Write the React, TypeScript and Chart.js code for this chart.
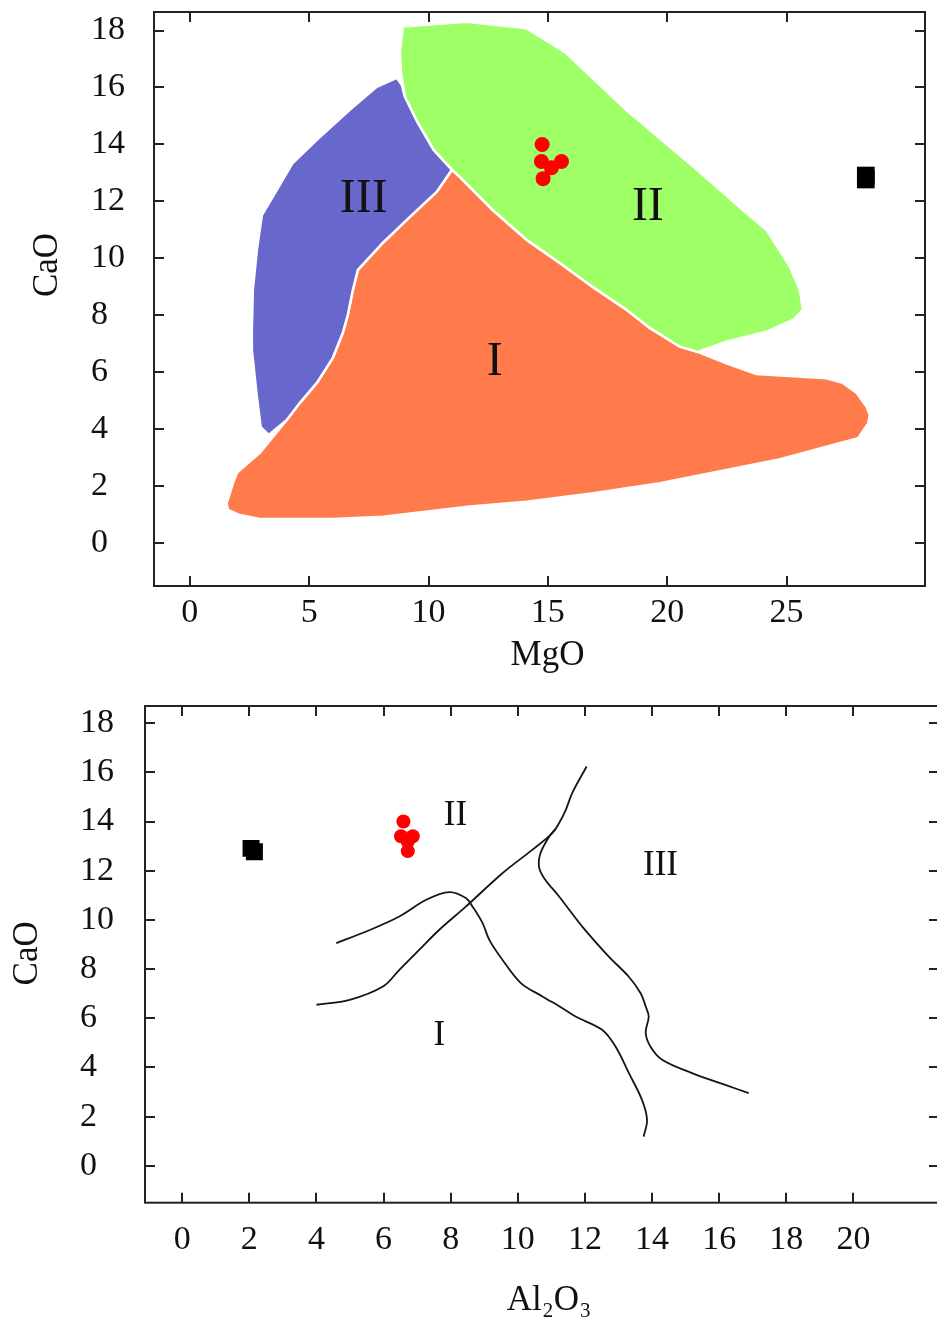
import React, { useEffect, useRef } from "react";
import { Chart, registerables } from "chart.js";

Chart.register(...registerables);

const SERIF = "'Liberation Serif', 'DejaVu Serif', 'Times New Roman', serif";

// ---------- tick labels ----------
const caoTicks = [0, 2, 4, 6, 8, 10, 12, 14, 16, 18];
const mgoTicks = [0, 5, 10, 15, 20, 25];
const al2o3Ticks = [0, 2, 4, 6, 8, 10, 12, 14, 16, 18, 20];

// ---------- samples ----------
const sampleMgO = [14.76, 14.73, 15.57, 15.15, 14.8];
const sampleAl2O3 = [6.59, 6.52, 6.87, 6.72, 6.72];
const sampleCaO = [14.0, 13.4, 13.4, 13.18, 12.8];

const refMgO = [28.32, 28.32];
const refAl2O3 = [2.05, 2.15];
const refCaO = [12.91, 12.77];

// ---------- MgO–CaO fields ----------
const fieldI_MgO = [10.98, 11.31, 12.69, 14.12, 15.5, 16.88, 18.31, 19.27, 20.53, 21.28, 22.48, 23.74, 26.67, 27.36, 27.93, 28.35, 28.49, 28.42, 28.0, 26.67, 24.58, 22.48, 19.69, 16.9, 14.11, 11.73, 8.1, 5.99, 2.93, 2.09, 1.6, 1.54, 1.81, 1.98, 2.93, 4.06, 4.61, 5.32, 5.99, 6.41, 6.62, 6.83, 7.04, 8.09, 9.22, 10.35];
const fieldI_CaO = [13.11, 12.86, 11.7, 10.65, 9.84, 9.0, 8.19, 7.56, 6.9, 6.72, 6.32, 5.94, 5.79, 5.63, 5.28, 4.8, 4.5, 4.21, 3.69, 3.39, 2.92, 2.57, 2.11, 1.76, 1.46, 1.29, 0.93, 0.85, 0.85, 0.99, 1.17, 1.4, 2.11, 2.48, 3.17, 4.33, 4.93, 5.63, 6.51, 7.39, 8.02, 8.89, 9.6, 10.55, 11.46, 12.34];

const fieldII_MgO = [8.92, 8.8, 8.85, 9.01, 9.55, 10.22, 10.98, 11.31, 12.69, 14.12, 15.5, 16.88, 18.31, 19.27, 20.53, 21.28, 22.48, 24.16, 25.27, 25.69, 25.56, 25.14, 24.16, 23.32, 21.09, 18.29, 15.78, 14.1, 11.59];
const fieldII_CaO = [18.14, 17.25, 16.5, 15.67, 14.76, 13.8, 13.11, 12.86, 11.7, 10.65, 9.84, 9.0, 8.19, 7.56, 6.9, 6.72, 7.08, 7.43, 7.84, 8.19, 8.89, 9.71, 11.0, 11.59, 13.22, 15.21, 17.2, 18.08, 18.31];

const fieldIII_MgO = [8.67, 7.83, 6.7, 5.32, 4.31, 3.64, 3.02, 2.81, 2.64, 2.6, 2.6, 2.81, 2.97, 3.31, 4.06, 4.61, 5.32, 5.99, 6.41, 6.62, 6.83, 7.04, 8.09, 9.22, 10.35, 10.98, 10.22, 9.55, 9.01, 8.88];
const fieldIII_CaO = [16.34, 16.02, 15.22, 14.16, 13.35, 12.4, 11.52, 10.3, 8.89, 7.49, 6.79, 5.14, 4.08, 3.8, 4.33, 4.93, 5.63, 6.51, 7.39, 8.02, 8.89, 9.6, 10.55, 11.46, 12.34, 13.11, 13.8, 14.76, 15.67, 16.1];

const topFieldLabels = ["I", "II", "III"];
const topLabelMgO = [12.78, 19.19, 7.29];
const topLabelCaO = [6.47, 11.91, 12.18];

// ---------- Al2O3–CaO boundaries ----------
const lineA_Al2O3 = [4.59, 5.48, 6.47, 7.27, 7.96, 8.45, 8.65, 8.95, 9.15, 9.54, 10.09, 10.73, 11.33, 11.72, 12.51, 12.91, 13.31, 13.7, 13.85, 13.75];
const lineA_CaO = [9.06, 9.53, 10.14, 10.82, 11.13, 10.89, 10.54, 9.87, 9.19, 8.38, 7.43, 6.89, 6.41, 6.07, 5.53, 4.85, 3.77, 2.68, 1.87, 1.19];

const lineB_Al2O3 = [4.0, 4.99, 5.98, 6.47, 7.06, 7.66, 8.45, 9.54, 10.43, 11.03, 11.23, 11.43, 11.62, 12.05];
const lineB_CaO = [6.55, 6.75, 7.29, 7.97, 8.78, 9.6, 10.54, 11.9, 12.85, 13.53, 13.94, 14.48, 15.16, 16.24];

const lineC_Al2O3 = [11.13, 10.93, 10.68, 10.63, 10.78, 11.23, 11.92, 12.71, 13.3, 13.66, 13.81, 13.9, 13.81, 13.95, 14.3, 15.19, 16.18, 16.88];
const lineC_CaO = [13.72, 13.38, 12.73, 12.17, 11.71, 10.95, 9.73, 8.51, 7.7, 7.02, 6.48, 6.07, 5.41, 4.85, 4.31, 3.77, 3.29, 2.96];

const bottomFieldLabels = ["I", "II", "III"];
const bottomLabelAl2O3 = [7.66, 8.14, 14.25];
const bottomLabelCaO = [5.39, 14.31, 12.3];

// ---------- helpers ----------
const zip = (xs: number[], ys: number[]) => xs.map((x, i) => ({ x, y: ys[i] }));
const closed = (xs: number[], ys: number[]) => {
  const p = zip(xs, ys);
  return p.concat([p[0]]);
};

function axis(min: number, max: number, ticks: number[], o: any) {
  return {
    type: "linear",
    min,
    max,
    afterBuildTicks: (s: any) => {
      s.ticks = ticks.map((v) => ({ value: v }));
    },
    afterFit: (s: any) => {
      if (o.width !== undefined) s.width = o.width;
      if (o.height !== undefined) s.height = o.height;
      s.paddingTop = 0;
      s.paddingBottom = 0;
      s.paddingLeft = 0;
      s.paddingRight = 0;
    },
    grid: { display: false, drawTicks: false },
    border: { display: false },
    ticks: {
      autoSkip: false,
      maxRotation: 0,
      padding: o.padding ?? 0,
      crossAlign: o.crossAlign ?? "near",
      color: "#111",
      font: { family: SERIF, size: 34 },
    },
  };
}

function frameTicks(len: number) {
  return {
    id: "frameTicks",
    afterDatasetsDraw(chart: any) {
      const { ctx, chartArea: a } = chart;
      const xs = chart.scales.x;
      const ys = chart.scales.y;
      ctx.save();
      ctx.strokeStyle = "#222";
      ctx.lineWidth = 2;
      ctx.strokeRect(a.left, a.top, a.right - a.left, a.bottom - a.top);
      ctx.beginPath();
      for (const t of xs.ticks) {
        const p = Math.round(xs.getPixelForValue(t.value));
        ctx.moveTo(p, a.bottom);
        ctx.lineTo(p, a.bottom - len);
        ctx.moveTo(p, a.top);
        ctx.lineTo(p, a.top + len);
      }
      for (const t of ys.ticks) {
        const p = Math.round(ys.getPixelForValue(t.value));
        ctx.moveTo(a.left, p);
        ctx.lineTo(a.left + len, p);
        ctx.moveTo(a.right, p);
        ctx.lineTo(a.right - len, p);
      }
      ctx.stroke();
      ctx.restore();
    },
  };
}

function regionLabels(labels: string[], xv: number[], yv: number[], size: number) {
  return {
    id: "regionLabels",
    afterDatasetsDraw(chart: any) {
      const { ctx } = chart;
      const xs = chart.scales.x;
      const ys = chart.scales.y;
      ctx.save();
      ctx.fillStyle = "#111";
      ctx.font = `${size}px ${SERIF}`;
      ctx.textAlign = "center";
      ctx.textBaseline = "alphabetic";
      labels.forEach((t, i) => {
        ctx.fillText(t, xs.getPixelForValue(xv[i]), ys.getPixelForValue(yv[i]) + size * 0.33);
      });
      ctx.restore();
    },
  };
}

function axisTitles(xt: string, xdx: number, xdy: number, yt: string, ydx: number, ydy: number, size: number) {
  return {
    id: "axisTitles",
    afterDraw(chart: any) {
      const { ctx, chartArea: a } = chart;
      ctx.save();
      ctx.fillStyle = "#111";
      ctx.font = `${size}px ${SERIF}`;
      ctx.textAlign = "center";
      ctx.textBaseline = "alphabetic";
      ctx.fillText(xt, (a.left + a.right) / 2 + xdx, a.bottom + xdy);
      ctx.translate(a.left + ydx, (a.top + a.bottom) / 2 + ydy);
      ctx.rotate(-Math.PI / 2);
      ctx.fillText(yt, 0, 0);
      ctx.restore();
    },
  };
}

const baseOptions = {
  responsive: false,
  maintainAspectRatio: false,
  animation: false,
  devicePixelRatio: 1,
  events: [],
};

function topConfig(): any {
  return {
    type: "scatter",
    data: {
      datasets: [
        { data: zip(sampleMgO, sampleCaO), pointRadius: 7.5, pointStyle: "circle", backgroundColor: "#ff0000", borderWidth: 0 },
        { data: zip(refMgO, refCaO), pointRadius: 12.5, pointStyle: "rect", backgroundColor: "#000", borderWidth: 0 },
        { data: closed(fieldIII_MgO, fieldIII_CaO), showLine: true, fill: "shape", backgroundColor: "#6867cc", borderColor: "#ffffff", borderWidth: 2.5, pointRadius: 0, tension: 0 },
        { data: closed(fieldII_MgO, fieldII_CaO), showLine: true, fill: "shape", backgroundColor: "#9eff66", borderColor: "#ffffff", borderWidth: 2.5, pointRadius: 0, tension: 0 },
        { data: closed(fieldI_MgO, fieldI_CaO), showLine: true, fill: "shape", backgroundColor: "#ff7b4c", borderColor: "#ffffff", borderWidth: 2.5, pointRadius: 0, tension: 0 },
      ],
    },
    options: {
      ...baseOptions,
      layout: { autoPadding: false, padding: { left: 91, top: 12, right: 12, bottom: 0 } },
      plugins: { legend: { display: false }, tooltip: { enabled: false } },
      scales: {
        x: axis(-1.5, 30.8, mgoTicks, { height: 94, padding: 7 }),
        y: axis(-1.5, 18.65, caoTicks, { width: 63, crossAlign: "far" }),
      },
    },
    plugins: [
      frameTicks(10),
      regionLabels(topFieldLabels, topLabelMgO, topLabelCaO, 48),
      axisTitles("MgO", 8, 79, "CaO", -97, -34, 35),
    ],
  };
}

function lineDs(xs: number[], ys: number[]) {
  return { data: zip(xs, ys), showLine: true, fill: false, borderColor: "#151515", borderWidth: 1.8, pointRadius: 0, tension: 0.35 };
}

function bottomConfig(): any {
  return {
    type: "scatter",
    data: {
      datasets: [
        { data: zip(sampleAl2O3, sampleCaO), pointRadius: 7, pointStyle: "circle", backgroundColor: "#ff0000", borderWidth: 0 },
        { data: zip(refAl2O3, refCaO), pointRadius: 12, pointStyle: "rect", backgroundColor: "#000", borderWidth: 0 },
        lineDs(lineA_Al2O3, lineA_CaO),
        lineDs(lineB_Al2O3, lineB_CaO),
        lineDs(lineC_Al2O3, lineC_CaO),
      ],
    },
    options: {
      ...baseOptions,
      layout: { autoPadding: false, padding: { left: 80, top: 26, right: 6, bottom: 0 } },
      plugins: { legend: { display: false }, tooltip: { enabled: false } },
      scales: {
        x: axis(-1.11, 22.55, al2o3Ticks, { height: 115.3, padding: 17 }),
        y: axis(-1.5, 18.7, caoTicks, { width: 65, crossAlign: "far" }),
      },
    },
    plugins: [
      frameTicks(10),
      regionLabels(bottomFieldLabels, bottomLabelAl2O3, bottomLabelCaO, 35),
      axisTitles("Al\u2082O\u2083", 7, 107, "CaO", -108, -1, 35),
    ],
  };
}

export default function App() {
  const topRef = useRef<HTMLCanvasElement>(null);
  const botRef = useRef<HTMLCanvasElement>(null);

  useEffect(() => {
    const c1 = new Chart(topRef.current as HTMLCanvasElement, topConfig());
    const c2 = new Chart(botRef.current as HTMLCanvasElement, bottomConfig());
    return () => {
      c1.destroy();
      c2.destroy();
    };
  }, []);

  return (
    <div style={{ position: "fixed", left: 0, top: 0, width: 937, height: 1318, overflow: "hidden", background: "#fff" }}>
      <canvas ref={topRef} width={937} height={680} style={{ position: "absolute", left: 0, top: 0, width: 937, height: 680 }} />
      <canvas ref={botRef} width={945} height={638} style={{ position: "absolute", left: 0, top: 680, width: 945, height: 638 }} />
    </div>
  );
}
